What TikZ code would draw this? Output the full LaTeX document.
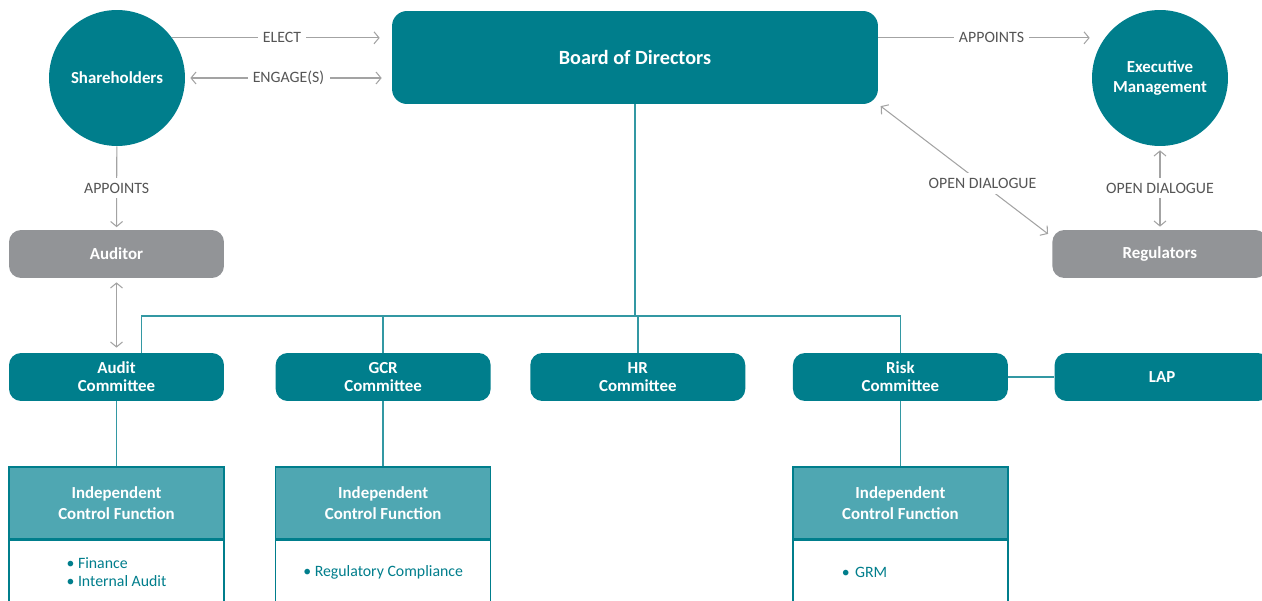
\documentclass[tikz,border=0pt]{standalone}
\usepackage{fontspec}
\setmainfont{Carlito}
\usetikzlibrary{shapes.geometric, arrows.meta, calc, positioning}
\definecolor{govteal}{HTML}{007E8C}
\definecolor{govlight}{HTML}{4FA7B2}
\definecolor{govgrey}{HTML}{929497}
\definecolor{linkgrey}{HTML}{A3A3A3}
\definecolor{labelgrey}{HTML}{555555}
\tikzstyle{person} = [circle, fill=govteal, minimum size=2.72cm, inner sep=0pt, text=white, align=center, font=\bfseries\fontsize{9.6}{11.3}\selectfont]
\tikzstyle{board} = [rectangle, rounded corners=0.3cm, fill=govteal, minimum width=9.72cm, minimum height=1.86cm, text=white, font=\bfseries\fontsize{11.5}{13}\selectfont]
\tikzstyle{block} = [rectangle, rounded corners=0.24cm, fill=govteal, minimum width=4.3cm, minimum height=0.96cm, inner sep=0pt, text=white, align=center, font=\bfseries\fontsize{9.6}{10.2}\selectfont]
\tikzstyle{party} = [block, fill=govgrey]
\tikzstyle{funchead} = [rectangle, draw=govteal, fill=govlight, line width=0.8pt, minimum width=4.3cm, minimum height=1.44cm, inner sep=0pt, text=white, align=center, font=\bfseries\fontsize{9.6}{11.9}\selectfont]
\tikzstyle{funcbody} = [rectangle, draw=govteal, fill=white, line width=0.8pt, minimum width=4.3cm, minimum height=1.27cm, inner sep=0pt, text=govteal, align=left, font=\fontsize{9}{10.2}\selectfont]
\tikzstyle{tag} = [fill=white, inner sep=3pt, text=labelgrey, font=\fontsize{9}{10}\selectfont]
\tikzstyle{arrow} = [draw=linkgrey, line width=0.6pt, ->, >={Straight Barb[length=1mm, width=2.4mm]}]
\tikzstyle{link} = [draw=govteal!80, line width=0.8pt]

\begin{document}
\begin{tikzpicture}[x=0.02cm, y=-0.02cm]
	\useasboundingbox (0,0) rectangle (1262,601);
	\clip (0,0) rectangle (1262,601);
	% top row
	\node (Shareholders) [person] at (117,78) {Shareholders};
	\node (Board) [board] at (635,57.5) {Board of Directors};
	\node (Executive) [person] at (1160,78) {Executive\\Management};
	\node (Auditor) [party] at (116.5,254) {Auditor};
	\node (Regulators) [party, anchor=west] at (1052,254) {Regulators};
	% committees
	\node (AuditCom) [block] at (116.5,377) {Audit\\Committee};
	\node (GCRCom) [block, right = 1.02cm of AuditCom] {GCR\\Committee};
	\node (HRCom) [block, right = 0.78cm of GCRCom] {HR\\Committee};
	\node (RiskCom) [block, right = 0.94cm of HRCom] {Risk\\Committee};
	\node (LAP) [block, right = 0.92cm of RiskCom] {LAP};
	% control functions
	\node (AuditICF) [funchead, below = 1.3cm of AuditCom] {Independent\\Control Function};
	\node (AuditBody) [funcbody, below = 0pt of AuditICF] {\textbullet\ Finance\\\textbullet\ Internal Audit};
	\node (GCRICF) [funchead, below = 1.3cm of GCRCom] {Independent\\Control Function};
	\node (GCRBody) [funcbody, below = 0pt of GCRICF] {\textbullet\ Regulatory Compliance};
	\node (RiskICF) [funchead, below = 1.3cm of RiskCom] {Independent\\Control Function};
	\node (RiskBody) [funcbody, text width=2.34cm, below = 0pt of RiskICF] {\textbullet\ GRM};
	% grey relations
	\draw [arrow, shorten >=0.24cm] (Shareholders.36) -- node[tag]{ELECT} (Shareholders.36 -| Board.west);
	\draw [arrow, <->, shorten <=0.1cm, shorten >=0.2cm] (Shareholders) -- node[tag]{ENGAGE(S)} (Board.west |- Shareholders);
	\draw [arrow, shorten >=0.3cm] (Board.east |- Executive.144) -- node[tag]{APPOINTS} (Executive.144);
	\draw [arrow, shorten >=0.05cm] (Shareholders) -- node[tag]{APPOINTS} (Auditor);
	\draw [arrow, <->, shorten <=0.08cm, shorten >=0.1cm] (Auditor) -- (AuditCom);
	\draw [arrow, <->, shorten <=0.06cm, shorten >=0.1cm] (Board.south east) -- node[tag, pos=0.6]{OPEN DIALOGUE} ($(Regulators.north west)!0.3!(Regulators.west)$);
	\draw [arrow, <->, shorten <=0.08cm, shorten >=0.06cm] (Executive) -- node[tag]{OPEN DIALOGUE} (Executive |- Regulators.north);
	% teal tree
	\coordinate (Bus) at (0,316);
	\coordinate (AuditDrop) at ($(AuditCom.north)+(25,0)$);
	\draw [link] (Board) -- (Board |- Bus);
	\draw [link] (AuditDrop) |- (Bus -| RiskCom) -- (RiskCom.north);
	\draw [link] (GCRCom) -- (GCRCom |- Bus);
	\draw [link] (HRCom) -- (HRCom |- Bus);
	\draw [link] (RiskCom) -- (LAP);
	\draw [link] (AuditCom) -- (AuditICF);
	\draw [link] (GCRCom) -- (GCRICF);
	\draw [link] (RiskCom) -- (RiskICF);
\end{tikzpicture}
\end{document}
